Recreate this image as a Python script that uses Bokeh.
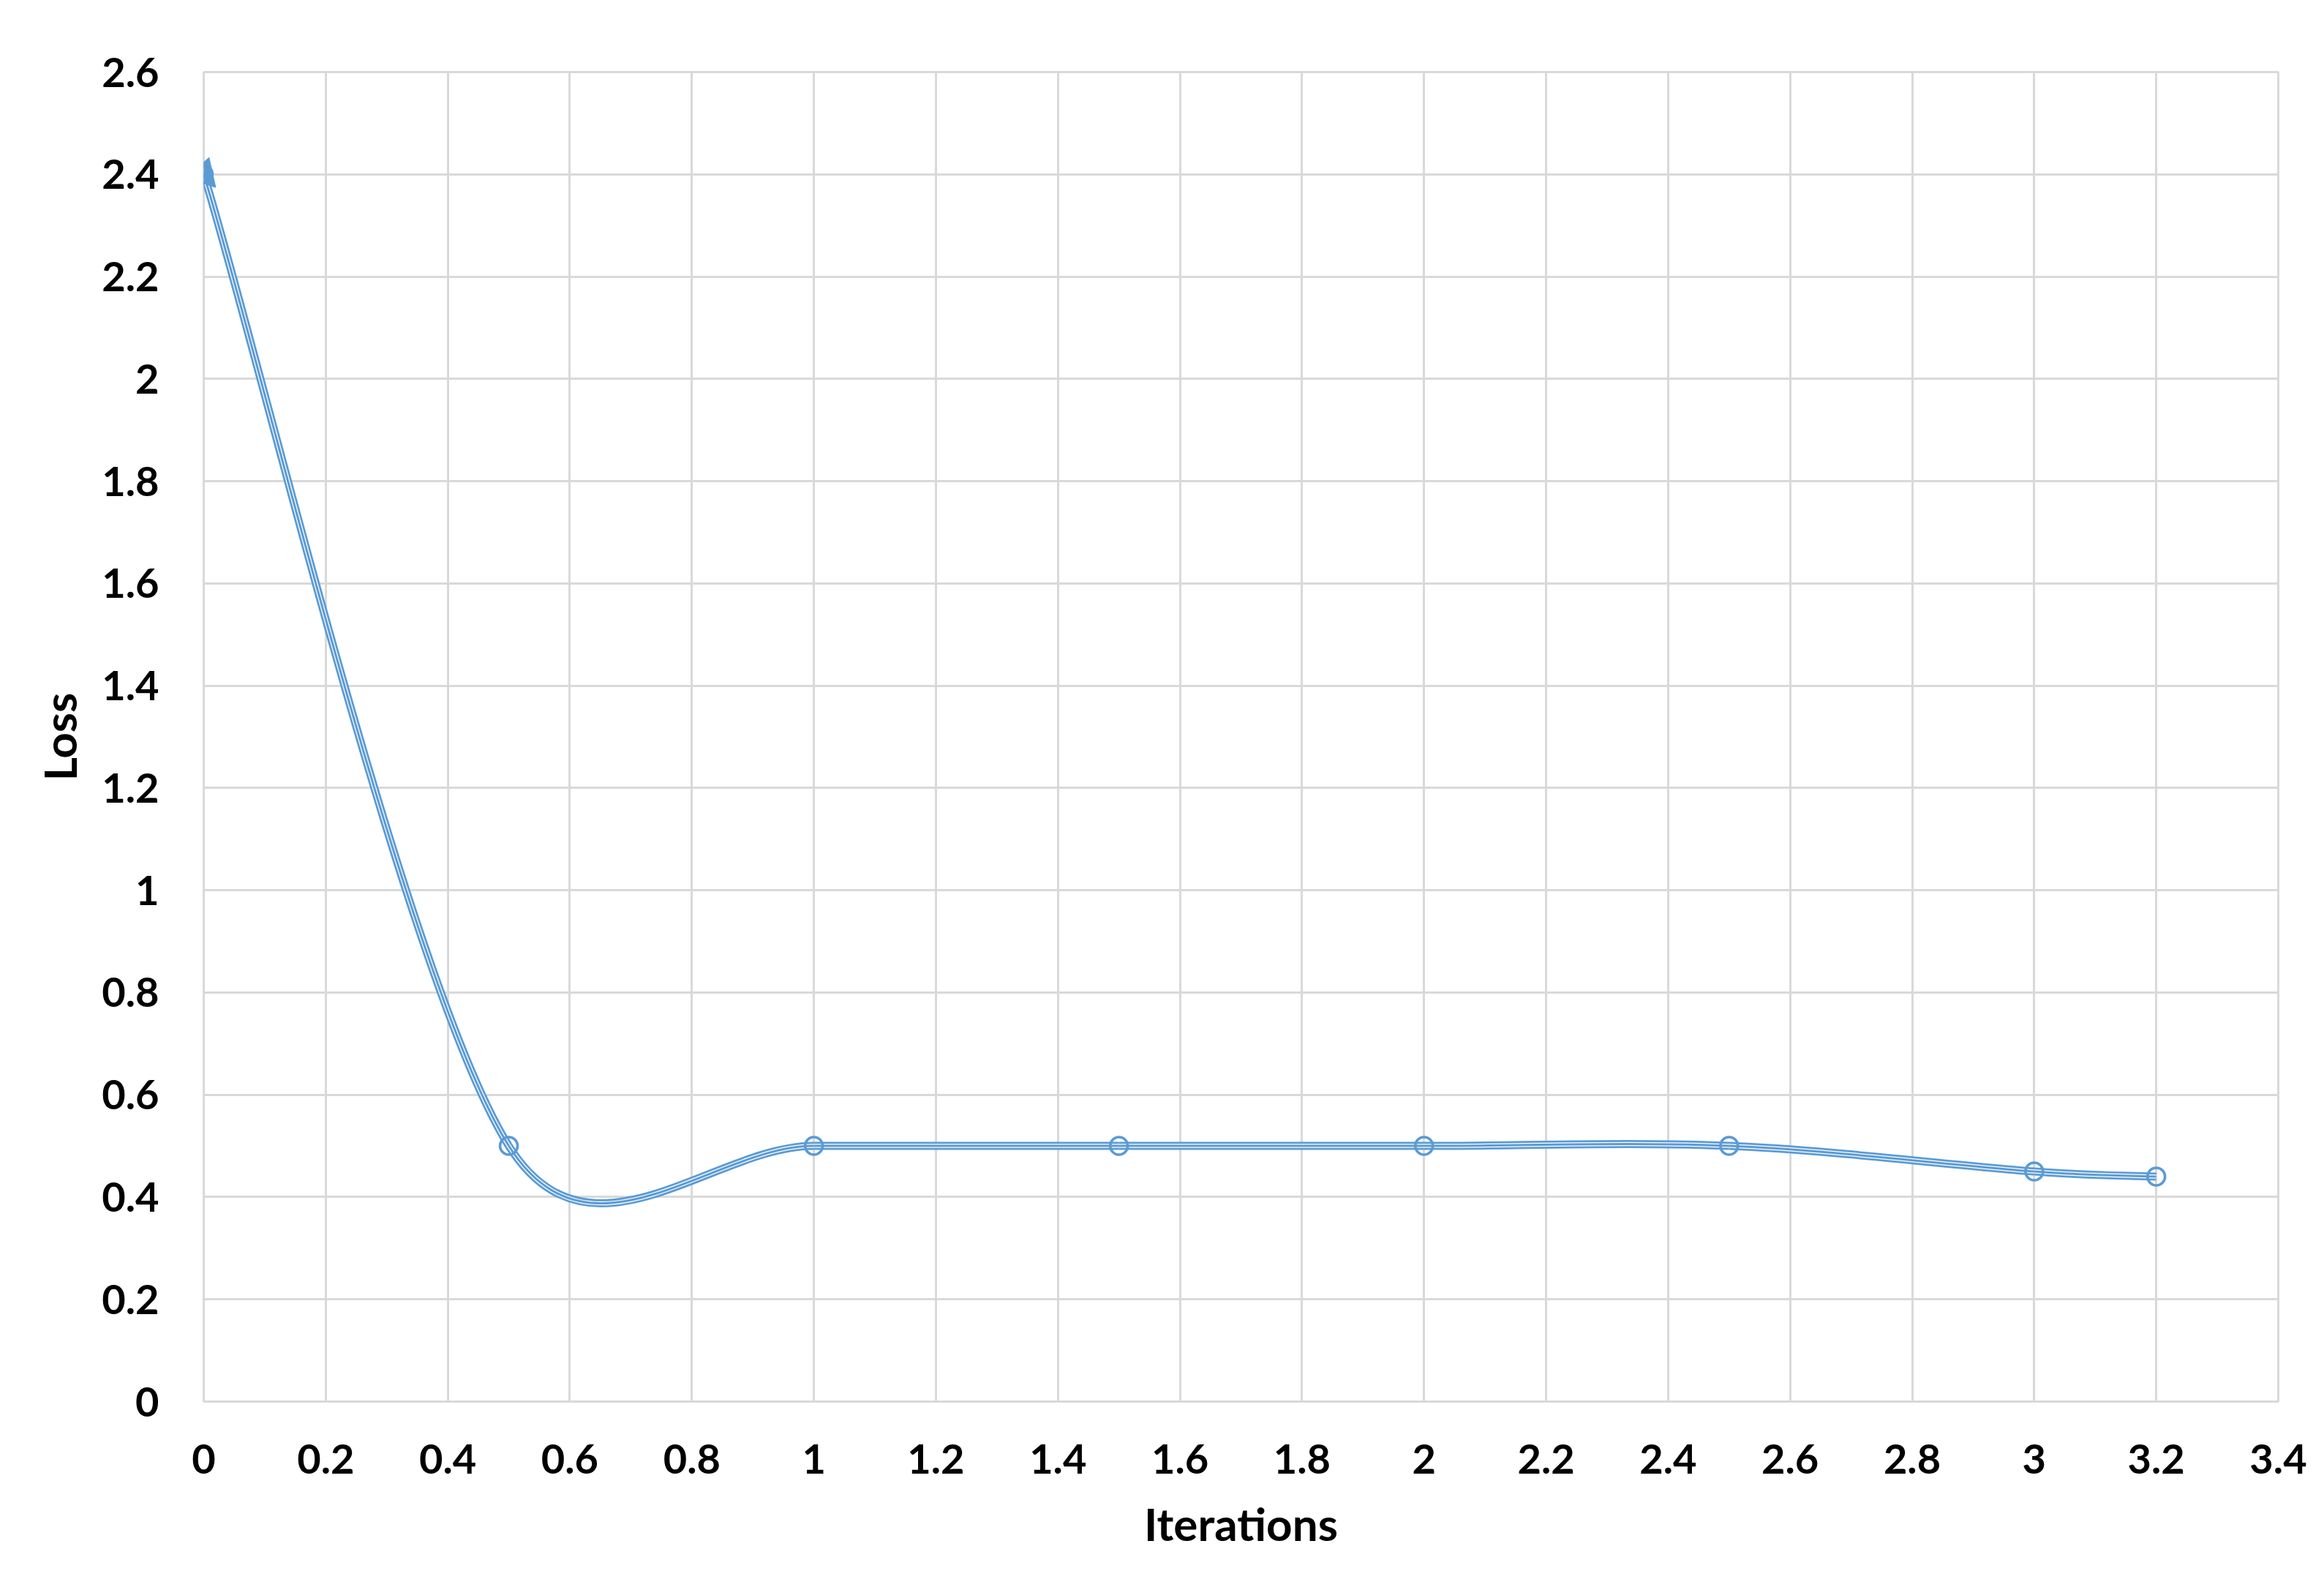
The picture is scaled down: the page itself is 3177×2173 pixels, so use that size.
import math
from bokeh.plotting import figure
from bokeh.models import Range1d, FixedTicker
from bokeh.embed import file_html
from bokeh.resources import INLINE

# ---- data ----
iterations = [0, 0.5, 1, 1.5, 2, 2.5, 3, 3.2]
loss = [2.4, 0.5, 0.5, 0.5, 0.5, 0.5, 0.45, 0.44]

x_ticks = [0, 0.2, 0.4, 0.6, 0.8, 1, 1.2, 1.4, 1.6, 1.8, 2, 2.2, 2.4, 2.6, 2.8, 3, 3.2, 3.4]
x_tick_labels = ["0", "0.2", "0.4", "0.6", "0.8", "1", "1.2", "1.4", "1.6", "1.8",
                 "2", "2.2", "2.4", "2.6", "2.8", "3", "3.2", "3.4"]
y_ticks = [0, 0.2, 0.4, 0.6, 0.8, 1, 1.2, 1.4, 1.6, 1.8, 2, 2.2, 2.4, 2.6]
y_tick_labels = ["0", "0.2", "0.4", "0.6", "0.8", "1", "1.2", "1.4", "1.6", "1.8",
                 "2", "2.2", "2.4", "2.6"]

X_MAX = 3.4
Y_MAX = 2.6

# ---- layout ----
W, H = 3161, 2157
ML, MR, MT, MB = 278, 47, 98, 242
FRAME_W = W - ML - MR
FRAME_H = H - MT - MB
SX = FRAME_W / X_MAX   # px per x unit
SY = FRAME_H / Y_MAX   # px per y unit

BLUE = "#5B9BD5"
GRID = "#D9D9D9"
FONT = "Lato"

# ---- smoothed line (Excel-like smoothing as cubic Bezier segments) ----
n = len(iterations)
P = [(iterations[i] * SX, loss[i] * SY) for i in range(n)]


def tangent(i):
    a = P[max(i - 1, 0)]
    b = P[min(i + 1, n - 1)]
    return (b[0] - a[0], b[1] - a[1])


x0s, y0s, x1s, y1s, cx0s, cy0s, cx1s, cy1s = [], [], [], [], [], [], [], []
for i in range(n - 1):
    a, b = P[i], P[i + 1]
    seg = math.hypot(b[0] - a[0], b[1] - a[1])
    ta, tb = tangent(i), tangent(i + 1)
    la, lb = math.hypot(*ta), math.hypot(*tb)
    sa = min(1 / 6, 0.5 * seg / la) if la > 0 else 0
    sb = min(1 / 6, 0.5 * seg / lb) if lb > 0 else 0
    c1 = (a[0] + ta[0] * sa, a[1] + ta[1] * sa)
    c2 = (b[0] - tb[0] * sb, b[1] - tb[1] * sb)
    x0s.append(a[0] / SX); y0s.append(a[1] / SY)
    x1s.append(b[0] / SX); y1s.append(b[1] / SY)
    cx0s.append(c1[0] / SX); cy0s.append(c1[1] / SY)
    cx1s.append(c2[0] / SX); cy1s.append(c2[1] / SY)

p = figure(width=W, height=H, output_backend="svg", toolbar_location=None,
           x_range=Range1d(0, X_MAX), y_range=Range1d(0, Y_MAX),
           min_border_left=ML, min_border_right=MR, min_border_top=MT, min_border_bottom=MB)
p.background_fill_color = "white"
p.border_fill_color = "white"
p.outline_line_color = GRID
p.outline_line_width = 3

# compound (thin-thick-thin style) line
bz = dict(x0=x0s, y0=y0s, x1=x1s, y1=y1s, cx0=cx0s, cy0=cy0s, cx1=cx1s, cy1=cy1s)
p.bezier(**bz, line_color=BLUE, line_width=11)
p.bezier(**bz, line_color="white", line_width=5.5)
p.bezier(**bz, line_color=BLUE, line_width=3)

# markers
p.scatter(iterations, loss, marker="circle", size=24, fill_color=None,
          line_color=BLUE, line_width=3.5)

# start arrowhead
ang = math.atan2(P[0][0] - cx0s[0] * SX, P[0][1] - cy0s[0] * SY)
p.scatter([iterations[0]], [loss[0]], marker="triangle", size=42, angle=ang,
          fill_color=BLUE, line_color=BLUE)

# axes
p.xaxis.ticker = FixedTicker(ticks=x_ticks)
p.yaxis.ticker = FixedTicker(ticks=y_ticks)
p.xaxis.major_label_overrides = {t: l for t, l in zip(x_ticks, x_tick_labels)}
p.yaxis.major_label_overrides = {t: l for t, l in zip(y_ticks, y_tick_labels)}
p.xaxis.axis_label = "Iterations"
p.yaxis.axis_label = "Loss"
for ax in (p.xaxis, p.yaxis):
    ax.axis_line_color = None
    ax.major_tick_line_color = None
    ax.minor_tick_line_color = None
    ax.major_label_text_font = FONT
    ax.major_label_text_font_style = "bold"
    ax.major_label_text_font_size = "56px"
    ax.major_label_text_color = "black"
    ax.axis_label_text_font = FONT
    ax.axis_label_text_font_style = "bold"
    ax.axis_label_text_font_size = "62px"
    ax.axis_label_text_color = "black"
p.xaxis.major_label_standoff = 52
p.yaxis.major_label_standoff = 55
p.xaxis.axis_label_standoff = 28
p.yaxis.axis_label_standoff = 18

p.xgrid.ticker = FixedTicker(ticks=x_ticks)
p.ygrid.ticker = FixedTicker(ticks=y_ticks)
p.grid.grid_line_color = GRID
p.grid.grid_line_width = 3

open("out.html", "w").write(file_html(p, INLINE))
